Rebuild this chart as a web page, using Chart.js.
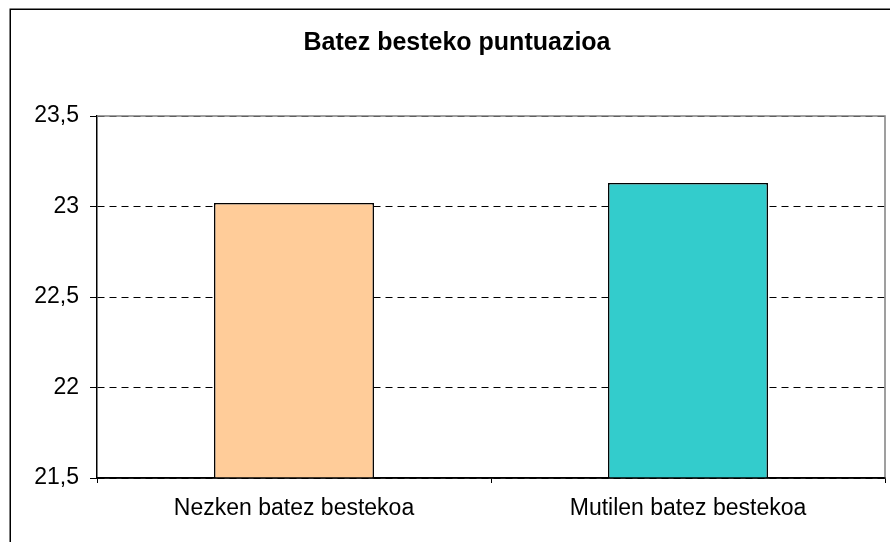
<!DOCTYPE html>
<html>
<head>
<meta charset="utf-8">
<script src="https://cdn.jsdelivr.net/npm/chart.js@4/dist/chart.umd.min.js"></script>
<style>
  html, body { margin: 0; padding: 0; background: #fff; }
  #wrap { width: 890px; height: 542px; position: relative; }
</style>
</head>
<body>
<div id="wrap"><canvas id="c" width="890" height="542"></canvas></div>
<script>
const chartTitle = "Batez besteko puntuazioa";
const categories = ["Nezken batez bestekoa", "Mutilen batez bestekoa"];
const values = [23.02, 23.13];
const barColors = ["#FFCC99", "#33CCCC"];
const yTicks = [21.5, 22, 22.5, 23, 23.5];
const yTickLabels = ["21,5", "22", "22,5", "23", "23,5"];

const FONT = "'Liberation Sans', Arial, sans-serif";

const framePlugin = {
  id: 'frame',
  beforeDraw(chart) {
    const ctx = chart.ctx;
    ctx.save();
    ctx.fillStyle = '#fff';
    ctx.fillRect(0, 0, chart.width, chart.height);
    ctx.strokeStyle = '#000';
    ctx.lineWidth = 1.5;
    ctx.strokeRect(10.25, 9.25, 2000, 2000);
    ctx.restore();
  },
  afterDatasetsDraw(chart) {
    const a = chart.chartArea;
    const ctx = chart.ctx;
    ctx.save();
    ctx.strokeStyle = '#808080';
    ctx.lineWidth = 1.5;
    ctx.beginPath();
    ctx.moveTo(a.left, a.top);
    ctx.lineTo(a.right, a.top);
    ctx.lineTo(a.right, a.bottom);
    ctx.stroke();
    ctx.strokeStyle = '#000';
    ctx.beginPath();
    ctx.moveTo(a.left, a.bottom);
    ctx.lineTo(a.right, a.bottom);
    ctx.stroke();
    ctx.restore();
  }
};

new Chart(document.getElementById('c'), {
  type: 'bar',
  data: {
    labels: categories,
    datasets: [{
      data: values,
      backgroundColor: barColors,
      borderColor: '#000',
      borderWidth: 1.5,
      borderSkipped: false,
      barPercentage: 0.406,
      categoryPercentage: 1
    }]
  },
  options: {
    responsive: false,
    animation: false,
    devicePixelRatio: 1,
    layout: { padding: { left: 29, right: 5, top: 0, bottom: 0 } },
    plugins: {
      legend: { display: false },
      tooltip: { enabled: false },
      title: {
        display: true,
        text: chartTitle,
        color: '#000',
        font: { family: FONT, size: 25, weight: 'bold' },
        padding: { top: 28, bottom: 58 }
      }
    },
    scales: {
      x: {
        offset: true,
        grid: { offset: true, drawOnChartArea: false, drawTicks: true, tickLength: 5, color: '#000', lineWidth: 1 },
        border: { display: true, color: '#000', width: 1.5 },
        ticks: { color: '#000', font: { family: FONT, size: 23 }, padding: 12, maxRotation: 0 },
        afterFit(scale) { scale.height = 64; }
      },
      y: {
        min: 21.5,
        max: 23.5,
        afterBuildTicks(scale) { scale.ticks = yTicks.map(v => ({ value: v })); },
        grid: { color: '#000', lineWidth: 1, tickLength: 7, drawTicks: true },
        border: { display: true, color: '#000', width: 1.5, dash: [7, 5] },
        ticks: {
          color: '#000',
          font: { family: FONT, size: 23 },
          padding: 11,
          callback(value) {
            const i = yTicks.indexOf(value);
            return i >= 0 ? yTickLabels[i] : '';
          }
        },
        afterFit(scale) { scale.width = 68; }
      }
    }
  },
  plugins: [framePlugin]
});
</script>
</body>
</html>
